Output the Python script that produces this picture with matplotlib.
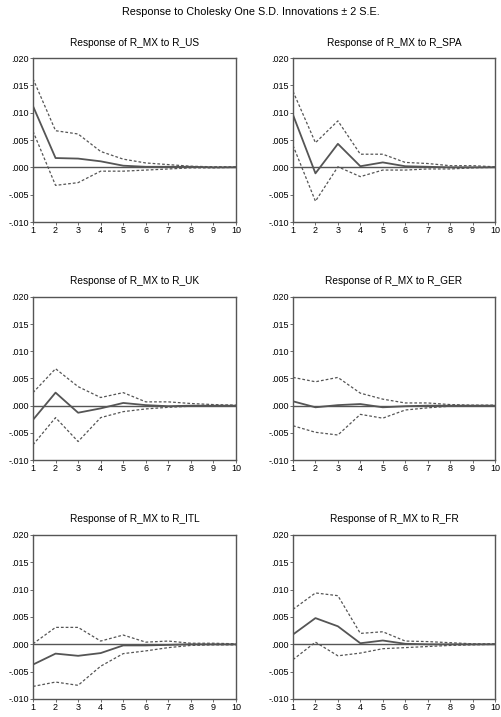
import matplotlib
matplotlib.use("Agg")
import matplotlib.pyplot as plt
from matplotlib.ticker import FuncFormatter

plt.rcParams["font.family"] = ["Liberation Sans", "DejaVu Sans"]

# -------------------------------------------------------------------
# Data: impulse responses of R_MX, periods 1..10
# -------------------------------------------------------------------
periods = [1, 2, 3, 4, 5, 6, 7, 8, 9, 10]

shocks = ["R_US", "R_SPA", "R_UK", "R_GER", "R_ITL", "R_FR"]

resp_us = [0.0112, 0.0017, 0.0016, 0.0011, 0.0003, 0.0001, 0.0001, 0.0001, 0.0000, 0.0000]
upper_us = [0.0162, 0.0067, 0.0061, 0.0029, 0.0015, 0.0008, 0.0005, 0.0002, 0.0001, 0.0001]
lower_us = [0.0066, -0.0033, -0.0028, -0.0007, -0.0007, -0.0005, -0.0003, -0.0001, -0.0001, 0.0000]

resp_spa = [0.0096, -0.0011, 0.0043, 0.0002, 0.0009, 0.0002, 0.0001, 0.0000, 0.0000, 0.0000]
upper_spa = [0.0139, 0.0045, 0.0085, 0.0024, 0.0024, 0.0009, 0.0007, 0.0003, 0.0003, 0.0001]
lower_spa = [0.0040, -0.0062, 0.0001, -0.0017, -0.0005, -0.0005, -0.0003, -0.0003, -0.0001, 0.0000]

resp_uk = [-0.0026, 0.0024, -0.0013, -0.0005, 0.0005, 0.0001, -0.0001, 0.0000, 0.0000, 0.0000]
upper_uk = [0.0024, 0.0068, 0.0035, 0.0015, 0.0024, 0.0007, 0.0007, 0.0004, 0.0002, 0.0001]
lower_uk = [-0.0072, -0.0022, -0.0066, -0.0022, -0.0011, -0.0006, -0.0003, -0.0001, -0.0001, 0.0000]

resp_ger = [0.0008, -0.0003, 0.0001, 0.0003, -0.0003, -0.0001, 0.0000, 0.0000, 0.0000, 0.0000]
upper_ger = [0.0052, 0.0044, 0.0052, 0.0023, 0.0012, 0.0005, 0.0005, 0.0002, 0.0001, 0.0001]
lower_ger = [-0.0037, -0.0049, -0.0054, -0.0016, -0.0023, -0.0008, -0.0004, -0.0001, -0.0001, 0.0000]

resp_itl = [-0.0037, -0.0017, -0.0021, -0.0016, -0.0002, -0.0002, -0.0001, 0.0000, 0.0000, 0.0000]
upper_itl = [0.0001, 0.0031, 0.0031, 0.0006, 0.0017, 0.0004, 0.0006, 0.0002, 0.0002, 0.0001]
lower_itl = [-0.0077, -0.0069, -0.0075, -0.0040, -0.0017, -0.0012, -0.0006, -0.0002, -0.0001, -0.0001]

resp_fr = [0.0018, 0.0048, 0.0033, 0.0002, 0.0007, 0.0001, 0.0000, 0.0000, 0.0000, 0.0000]
upper_fr = [0.0064, 0.0094, 0.0089, 0.0020, 0.0023, 0.0006, 0.0005, 0.0003, 0.0001, 0.0001]
lower_fr = [-0.0028, 0.0004, -0.0021, -0.0016, -0.0008, -0.0006, -0.0004, -0.0002, -0.0001, 0.0000]

responses = [resp_us, resp_spa, resp_uk, resp_ger, resp_itl, resp_fr]
uppers = [upper_us, upper_spa, upper_uk, upper_ger, upper_itl, upper_fr]
lowers = [lower_us, lower_spa, lower_uk, lower_ger, lower_itl, lower_fr]

y_ticks = [-0.010, -0.005, 0.000, 0.005, 0.010, 0.015, 0.020]


def eviews_fmt(v, _pos):
    s = f"{v:.3f}"
    return s.replace("0.", ".", 1)


# -------------------------------------------------------------------
# Layout (pixels measured from the reference)
# -------------------------------------------------------------------
W, H = 502, 717
col_left = [33, 293]
col_width = [203, 202]
row_top = [58, 297, 535]
row_height = [164, 163, 164]

fig = plt.figure(figsize=(W / 100, H / 100), dpi=100)
fig.text(0.5, 1 - 12 / H, "Response to Cholesky One S.D. Innovations \u00b1 2 S.E.",
         ha="center", va="center", fontsize=7.8)

frame_col = "#555555"
for i, shock in enumerate(shocks):
    r, c = divmod(i, 2)
    left = col_left[c] / W
    bottom = 1 - (row_top[r] + row_height[r]) / H
    ax = fig.add_axes([left, bottom, col_width[c] / W, row_height[r] / H])

    ax.axhline(0, color="#555555", lw=1.0, zorder=1)
    ax.plot(periods, uppers[i], color="#555555", lw=0.9, ls=(0, (2.2, 1.6)), zorder=2)
    ax.plot(periods, lowers[i], color="#555555", lw=0.9, ls=(0, (2.2, 1.6)), zorder=2)
    ax.plot(periods, responses[i], color="#555555", lw=1.3, zorder=3)

    ax.set_xlim(1, 10)
    ax.set_ylim(-0.010, 0.020)
    ax.set_xticks(periods)
    ax.set_yticks(y_ticks)
    ax.yaxis.set_major_formatter(FuncFormatter(eviews_fmt))
    ax.tick_params(axis="both", labelsize=6.5, length=2, width=0.6,
                   color=frame_col, pad=1)
    for sp in ax.spines.values():
        sp.set_color(frame_col)
        sp.set_linewidth(1.0)
    ax.set_title(f"Response of R_MX to {shock}", fontsize=7.3, pad=9)

fig.savefig("out.png", dpi=100)
